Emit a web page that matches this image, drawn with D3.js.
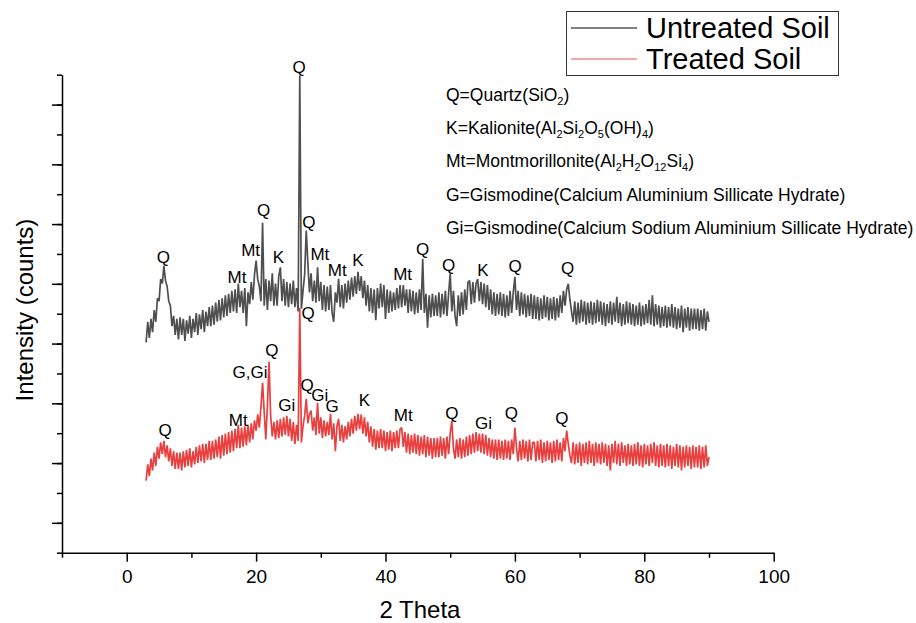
<!DOCTYPE html>
<html lang="en">
<head>
<meta charset="utf-8">
<title>XRD Untreated vs Treated Soil</title>
<script src="https://cdn.jsdelivr.net/npm/d3@7"></script>
<style>
  body{margin:0;background:#fff;font-family:"Liberation Sans",Arial,sans-serif;}
</style>
</head>
<body>
<div id="chart"></div>
<script>

// 2 theta grid: 3.00 .. 90.00 every 0.25 deg (349 readings per pattern)
var thetaStart = 3, thetaStep = 0.25

// untreated soil intensity (counts), 20 readings per row (5 deg)
var untreated = [
  690,760,705,770,725,800,760,840,830,905,890,950,900,880,830,815,745,780,715,770,
  700,775,715,770,695,765,720,780,705,770,725,790,715,785,735,800,725,795,745,810,
  745,815,750,825,760,835,765,840,775,850,780,855,790,865,795,870,790,890,810,865,
  790,875,745,860,820,895,835,920,968,905,880,830,1097,815,905,800,900,830,925,815,
  890,815,915,945,830,905,815,895,810,890,820,900,810,875,795,1597,805,865,920,1070,
  960,860,925,830,900,825,945,830,895,800,885,795,880,800,885,790,760,860,825,906,
  810,885,805,890,825,900,835,910,845,915,855,930,865,915,840,900,815,885,795,875,
  790,870,765,875,805,890,810,885,770,870,790,865,795,860,800,875,805,885,810,885,
  815,870,790,870,795,865,785,860,790,870,800,974,790,855,740,850,775,855,780,850,
  780,860,775,855,785,865,780,855,923,795,865,780,745,850,780,860,785,870,800,895,
  900,820,895,825,890,905,830,895,820,890,810,885,800,870,785,860,780,855,785,860,
  780,855,775,850,780,865,790,860,913,800,865,780,860,785,855,775,850,780,855,770,
  850,770,845,765,840,770,850,775,845,765,840,770,845,765,840,775,850,790,865,815,
  870,889,835,795,760,830,750,825,755,835,760,830,750,825,755,830,750,825,755,835,
  760,830,750,825,745,820,755,830,750,825,760,845,755,825,745,820,750,830,755,825,
  750,820,745,815,750,825,745,815,750,820,755,835,750,850,745,820,750,815,740,810,
  745,815,740,810,745,820,740,810,735,805,740,815,725,805,740,810,730,805,735,805,
  735,805,730,800,735,805,730,795,760
]

// treated soil intensity (counts)
var treated = [
  220,275,235,295,255,315,270,335,295,350,310,355,300,340,285,330,270,320,260,315,
  260,315,255,320,265,325,270,330,265,320,275,335,280,340,285,345,280,345,290,355,
  290,355,295,360,300,370,295,375,305,380,310,385,315,390,320,395,330,410,330,400,
  335,405,340,410,350,415,360,425,390,445,400,470,553,455,360,475,624,440,370,420,
  360,425,365,430,370,435,375,440,370,430,355,420,345,410,355,808,350,405,440,498,
  415,445,458,390,435,375,485,380,435,365,425,370,420,375,447,360,415,320,405,430,
  355,410,350,405,360,420,370,430,380,440,390,447,395,445,380,435,370,420,350,405,
  335,395,325,390,330,395,330,390,320,385,325,390,320,385,330,390,330,395,400,335,
  385,315,380,310,375,315,380,310,375,305,370,310,375,300,370,305,365,295,365,300,
  365,300,370,305,365,295,370,310,380,424,330,295,360,300,365,295,360,300,370,305,
  375,310,380,315,385,320,380,315,380,310,375,305,365,300,360,295,360,290,360,295,
  355,290,360,295,355,290,360,310,400,330,285,355,290,360,295,355,285,360,290,350,
  350,285,355,290,360,280,350,285,355,290,350,280,355,285,360,290,350,285,365,320,
  390,345,305,280,350,275,345,280,350,270,345,280,350,275,355,280,345,270,350,280,
  345,275,350,280,345,270,340,255,345,280,355,275,345,270,350,280,340,270,345,275,
  340,270,345,275,350,270,340,265,345,275,340,270,345,280,350,270,340,265,345,270,
  340,265,345,270,340,260,335,270,345,265,340,255,335,265,340,270,335,260,340,265,
  335,265,340,260,335,265,340,270,300
]

var xTicks = [0, 20, 40, 60, 80, 100]
var xMinorTicks = [-10, 10, 30, 50, 70, 90]

// peak labels: [label, 2theta, counts]
var untreatedPeaks = [
  ["Q",5.65,979],["Mt",17.05,911],["Mt",19.15,1002],["Q",21.15,1138],["K",23.45,979],
  ["Q",26.65,1625],["Q",28.15,1097],["Mt",29.85,988],["Mt",32.55,934],["K",35.75,968],
  ["Mt",42.65,922],["Q",45.75,1007],["Q",49.75,953],["K",55.05,936],["Q",60.05,947],["Q",68.15,941]
]
var treatedPeaks = [
  ["Q",5.95,390],["Mt",17.25,424],["G,Gi",19.05,588],["Q",22.45,662],["Gi",24.75,475],
  ["Q",28.05,788],["Q",27.9,543],["Gi",29.85,509],["G",31.75,471],["K",36.75,494],
  ["Mt",42.75,441],["Q",50.25,448],["Gi",55.15,414],["Q",59.45,448],["Q",67.25,431]
]

var seriesNames = ["Untreated Soil", "Treated Soil"]

// phase key, [text, subscript?]
var keyLines = [
  [["Q=Quartz(SiO",0],["2",1],[")",0]],
  [["K=Kalionite(Al",0],["2",1],["Si",0],["2",1],["O",0],["5",1],["(OH)",0],["4",1],[")",0]],
  [["Mt=Montmorillonite(Al",0],["2",1],["H",0],["2",1],["O",0],["12",1],["Si",0],["4",1],[")",0]],
  [["G=Gismodine(Calcium Aluminium Sillicate Hydrate)",0]],
  [["Gi=Gismodine(Calcium Sodium Aluminium Sillicate Hydrate)",0]]
]

var W = 916, H = 623
var font = "'Liberation Sans', Arial, sans-serif"

var svg = d3.select("#chart").append("svg")
            .attr("width", W)
            .attr("height", H)
            .style("font-family", font)

var x = d3.scaleLinear().domain([-10, 100]).range([62, 773.7])
var y = d3.scaleLinear().domain([-25, 1600]).range([552.7, 74.7])

function toPoints(vals){
  return vals.map(function(v, i){ return [thetaStart + i*thetaStep, v] })
}

var line = d3.line()
             .x(function(d){ return x(d[0]) })
             .y(function(d){ return y(d[1]) })

svg.append("path")
   .datum(toPoints(untreated))
   .attr("fill", "none")
   .attr("stroke", "#4f4f4f")
   .attr("stroke-width", 1.7)
   .attr("stroke-linejoin", "bevel")
   .attr("d", line)

svg.append("path")
   .datum(toPoints(treated))
   .attr("fill", "none")
   .attr("stroke", "#e83f3f")
   .attr("stroke-width", 1.7)
   .attr("stroke-linejoin", "bevel")
   .attr("d", line)

// axes
var yTicksAll = d3.range(17).map(function(i){ return -25 + i*1625/16 })
var yMajor = yTicksAll.filter(function(d, i){ return i % 2 == 1 })

svg.append("g")
   .attr("transform", "translate(62,0)")
   .call(d3.axisLeft(y).tickValues(yTicksAll).tickSize(5).tickSizeOuter(0).tickFormat(""))
   .call(function(g){ g.selectAll("path,line").attr("stroke", "#000").attr("stroke-width", 1.5) })

svg.append("g")
   .attr("transform", "translate(62,0)")
   .call(d3.axisLeft(y).tickValues(yMajor).tickSize(10).tickSizeOuter(0).tickFormat(""))
   .call(function(g){ g.select(".domain").remove(); g.selectAll("line").attr("stroke", "#000").attr("stroke-width", 1.5) })

svg.append("g")
   .attr("transform", "translate(0,552.7)")
   .call(d3.axisBottom(x).tickValues(xMinorTicks).tickSize(5).tickSizeOuter(0).tickFormat(""))
   .call(function(g){ g.selectAll("path,line").attr("stroke", "#000").attr("stroke-width", 1.5) })

svg.append("g")
   .attr("transform", "translate(0,552.7)")
   .call(d3.axisBottom(x).tickValues(xTicks).tickSize(9).tickPadding(8).tickSizeOuter(0))
   .call(function(g){
      g.select(".domain").remove()
      g.selectAll("line").attr("stroke", "#000").attr("stroke-width", 1.5)
      g.selectAll("text").attr("font-size", 19).attr("font-family", font).attr("fill", "#000")
   })

svg.append("text")
   .attr("x", 420)
   .attr("y", 609)
   .attr("text-anchor", "middle")
   .attr("dominant-baseline", "central")
   .attr("font-size", 24)
   .text("2 Theta")

svg.append("text")
   .attr("transform", "translate(24,310) rotate(-90)")
   .attr("text-anchor", "middle")
   .attr("dominant-baseline", "central")
   .attr("font-size", 24)
   .text("Intensity (counts)")

// peak labels
svg.append("g").selectAll("text")
   .data(untreatedPeaks.concat(treatedPeaks))
   .enter()
   .append("text")
   .attr("x", function(d){ return x(d[1]) })
   .attr("y", function(d){ return y(d[2]) })
   .attr("text-anchor", "middle")
   .attr("dominant-baseline", "central")
   .attr("font-size", 17)
   .text(function(d){ return d[0] })

// phase key
var key = svg.append("g")
keyLines.forEach(function(parts, i){
  var t = key.append("text")
             .attr("x", 446)
             .attr("y", 101 + i*33.2)
             .attr("font-size", 17.5)
  parts.forEach(function(p){
    var s = t.append("tspan").text(p[0])
    if(p[1]){
      s.attr("font-size", 11).attr("baseline-shift", "-4")
    }
  })
})

// legend
var legColor = d3.scaleOrdinal().domain(seriesNames).range(["#555555", "#ef8a8a"])
svg.append("rect")
   .attr("x", 566.5).attr("y", 11.5)
   .attr("width", 272).attr("height", 64)
   .attr("fill", "#fff")
   .attr("stroke", "#333")
   .attr("stroke-width", 1)

var leg = svg.append("g").selectAll("g")
             .data(seriesNames)
             .enter()
             .append("g")
             .attr("transform", function(d, i){ return "translate(571," + (28 + i*31) + ")" })
leg.append("line")
   .attr("x1", 0).attr("x2", 66)
   .attr("stroke", function(d){ return legColor(d) })
   .attr("stroke-width", 1.3)
leg.append("text")
   .attr("x", 75)
   .attr("dominant-baseline", "central")
   .attr("font-size", 29)
   .text(function(d){ return d })

</script>
</body>
</html>
